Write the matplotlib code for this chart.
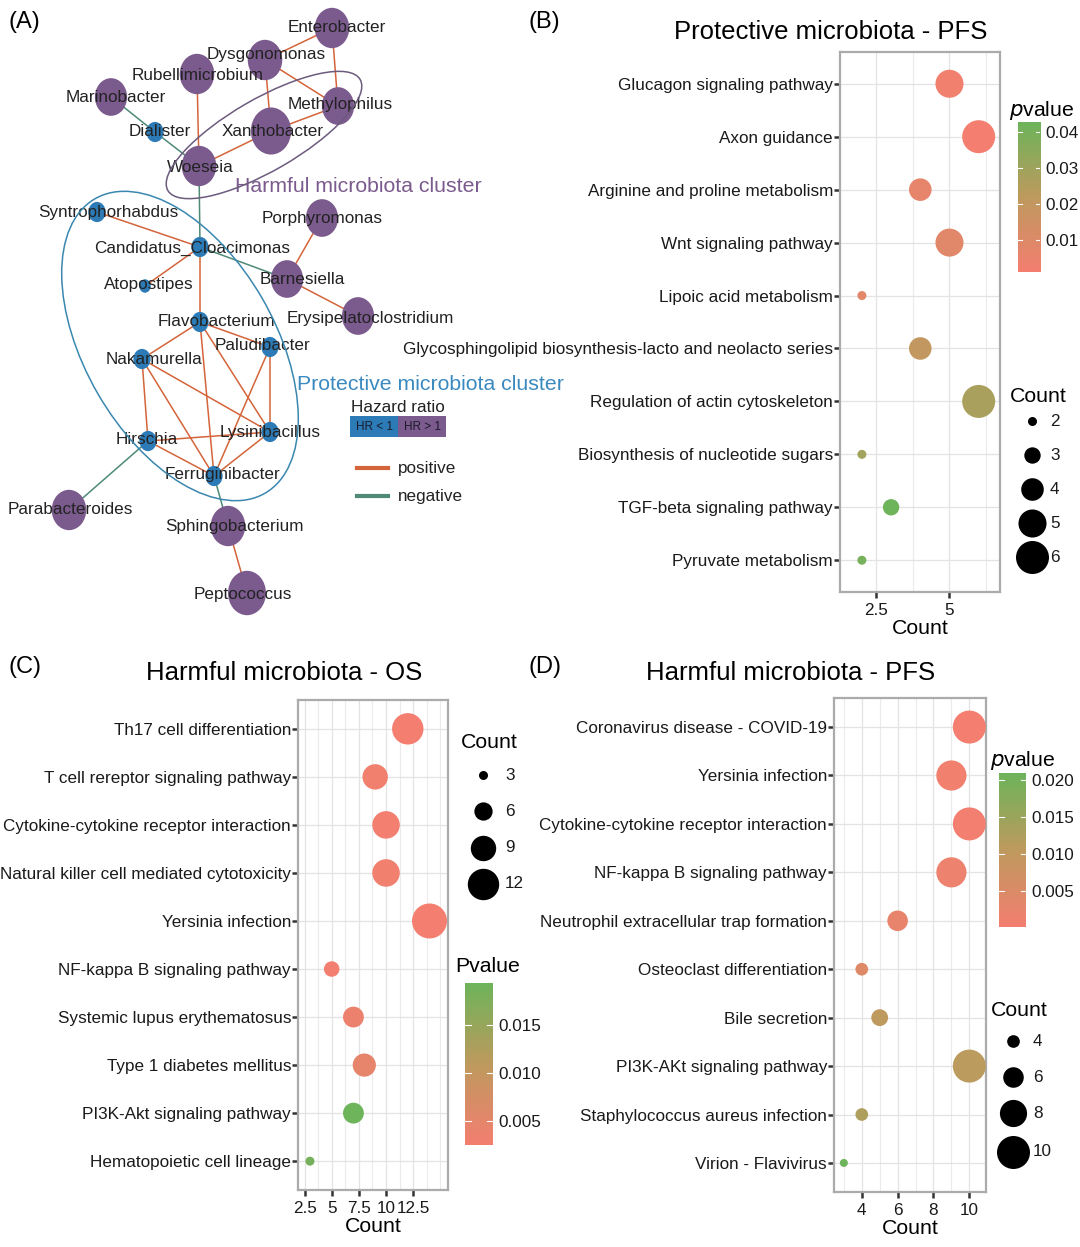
import numpy as np
import matplotlib
matplotlib.use("Agg")
import matplotlib.pyplot as plt
from matplotlib.patches import Ellipse, Rectangle
from matplotlib.colors import LinearSegmentedColormap, Normalize

plt.rcParams['font.family'] = ['Liberation Sans', 'DejaVu Sans']

W, H = 1080, 1247

# ---------------- network data (panel A) ----------------
node_names = ["Enterobacter", "Dysgonomonas", "Rubellimicrobium", "Marinobacter",
              "Methylophilus", "Xanthobacter", "Dialister", "Woeseia",
              "Syntrophorhabdus", "Porphyromonas", "Candidatus_Cloacimonas",
              "Barnesiella", "Atopostipes", "Erysipelatoclostridium",
              "Flavobacterium", "Paludibacter", "Nakamurella", "Lysinibacillus",
              "Hirschia", "Ferruginibacter", "Parabacteroides", "Sphingobacterium",
              "Peptococcus"]
node_hr = [">1", ">1", ">1", ">1", ">1", ">1", "<1", ">1",
           "<1", ">1", "<1", ">1", "<1", ">1",
           "<1", "<1", "<1", "<1", "<1", "<1", ">1", ">1", ">1"]
node_size = [3, 3, 3, 2.8, 2.8, 3.5, 1.5, 3,
             1.5, 2.8, 1.5, 2.8, 1, 2.8,
             1.5, 1.5, 1.5, 1.5, 1.5, 1.5, 3, 3, 3.3]

edges_pos = [("Enterobacter", "Dysgonomonas"), ("Enterobacter", "Methylophilus"),
             ("Dysgonomonas", "Methylophilus"), ("Dysgonomonas", "Xanthobacter"),
             ("Methylophilus", "Xanthobacter"), ("Xanthobacter", "Woeseia"),
             ("Rubellimicrobium", "Woeseia"), ("Syntrophorhabdus", "Candidatus_Cloacimonas"),
             ("Porphyromonas", "Barnesiella"), ("Barnesiella", "Erysipelatoclostridium"),
             ("Atopostipes", "Candidatus_Cloacimonas"), ("Candidatus_Cloacimonas", "Flavobacterium"),
             ("Flavobacterium", "Nakamurella"), ("Flavobacterium", "Paludibacter"),
             ("Flavobacterium", "Lysinibacillus"), ("Flavobacterium", "Ferruginibacter"),
             ("Nakamurella", "Hirschia"), ("Nakamurella", "Ferruginibacter"),
             ("Nakamurella", "Lysinibacillus"), ("Paludibacter", "Lysinibacillus"),
             ("Paludibacter", "Ferruginibacter"), ("Hirschia", "Lysinibacillus"),
             ("Hirschia", "Ferruginibacter"), ("Lysinibacillus", "Ferruginibacter"),
             ("Sphingobacterium", "Peptococcus")]
edges_neg = [("Marinobacter", "Dialister"), ("Dialister", "Woeseia"),
             ("Woeseia", "Candidatus_Cloacimonas"), ("Candidatus_Cloacimonas", "Barnesiella"),
             ("Hirschia", "Parabacteroides"), ("Ferruginibacter", "Sphingobacterium")]

# layout of the network in pixel space (x, y) and label anchor
layout = {
    "Enterobacter": (332, 28), "Dysgonomonas": (265, 60), "Rubellimicrobium": (197, 74),
    "Marinobacter": (111, 97), "Methylophilus": (338, 106), "Xanthobacter": (271, 131),
    "Dialister": (155, 132), "Woeseia": (199, 166), "Syntrophorhabdus": (97, 212),
    "Porphyromonas": (322, 218), "Candidatus_Cloacimonas": (200, 247),
    "Barnesiella": (287, 279), "Atopostipes": (145, 286),
    "Erysipelatoclostridium": (358, 316), "Flavobacterium": (200, 322),
    "Paludibacter": (270, 347), "Nakamurella": (142, 359), "Lysinibacillus": (270, 432),
    "Hirschia": (148, 441), "Ferruginibacter": (214, 476), "Parabacteroides": (69, 510),
    "Sphingobacterium": (228, 526), "Peptococcus": (247, 593),
}
label_pos = {
    "Enterobacter": (337, 27), "Dysgonomonas": (266, 55), "Rubellimicrobium": (198, 75),
    "Marinobacter": (116, 97), "Methylophilus": (340, 105), "Xanthobacter": (273, 132),
    "Dialister": (160, 132), "Woeseia": (200, 167), "Syntrophorhabdus": (108, 212),
    "Porphyromonas": (322, 218), "Candidatus_Cloacimonas": (192, 248),
    "Barnesiella": (302, 280), "Atopostipes": (149, 285),
    "Erysipelatoclostridium": (370, 318), "Flavobacterium": (216, 321),
    "Paludibacter": (263, 346), "Nakamurella": (154, 359), "Lysinibacillus": (270, 432),
    "Hirschia": (147, 440), "Ferruginibacter": (222, 475), "Parabacteroides": (70, 509),
    "Sphingobacterium": (234, 526), "Peptococcus": (243, 594),
}

# ---------------- enrichment data ----------------
b_terms = ["Glucagon signaling pathway", "Axon guidance", "Arginine and proline metabolism",
           "Wnt signaling pathway", "Lipoic acid metabolism",
           "Glycosphingolipid biosynthesis-lacto and neolacto series",
           "Regulation of actin cytoskeleton", "Biosynthesis of nucleotide sugars",
           "TGF-beta signaling pathway", "Pyruvate metabolism"]
b_count = [5, 6, 4, 5, 2, 4, 6, 2, 3, 2]
b_pval = [0.0025, 0.0011, 0.0065, 0.0085, 0.008, 0.020, 0.027, 0.029, 0.0428, 0.040]

c_terms = ["Th17 cell differentiation", "T cell rereptor signaling pathway",
           "Cytokine-cytokine receptor interaction", "Natural killer cell mediated cytotoxicity",
           "Yersinia infection", "NF-kappa B signaling pathway", "Systemic lupus erythematosus",
           "Type 1 diabetes mellitus", "PI3K-Akt signaling pathway", "Hematopoietic cell lineage"]
c_count = [12, 9, 10, 10, 14, 5, 7, 8, 7, 3]
c_pval = [0.0026, 0.003, 0.0028, 0.003, 0.0025, 0.0027, 0.0038, 0.0048, 0.0194, 0.0185]

d_terms = ["Coronavirus disease - COVID-19", "Yersinia infection",
           "Cytokine-cytokine receptor interaction", "NF-kappa B signaling pathway",
           "Neutrophil extracellular trap formation", "Osteoclast differentiation",
           "Bile secretion", "PI3K-AKt signaling pathway", "Staphylococcus aureus infection",
           "Virion - Flavivirus"]
d_count = [10, 9, 10, 9, 6, 4, 5, 10, 4, 3]
d_pval = [0.0001, 0.0008, 0.0004, 0.0015, 0.0025, 0.0045, 0.0105, 0.011, 0.0125, 0.021]

PURPLE = "#7B5A8D"
BLUE = "#2C7BB6"
POS = "#D4643A"
NEG = "#4E8A78"
cmap = LinearSegmentedColormap.from_list("pv", ["#F47E70", "#BE9A5E", "#6DB45A"])

FS = 12.3       # tick / node label size
FS_T = 15.3     # axis / legend titles

fig = plt.figure(figsize=(W / 100, H / 100), dpi=100)
ov = fig.add_axes([0, 0, 1, 1])
ov.set_xlim(0, W)
ov.set_ylim(H, 0)
ov.axis("off")


def px_axes(left, top, right, bottom):
    return fig.add_axes([left / W, 1 - bottom / H, (right - left) / W, (bottom - top) / H])


def diam(c, cmin, cmax, dmin, dmax):
    # ggplot-like area scaling: diameter linear in sqrt(count)
    t = (np.sqrt(c) - np.sqrt(cmin)) / (np.sqrt(cmax) - np.sqrt(cmin))
    return dmin + t * (dmax - dmin)


# ---------------- panel A: network ----------------
for lst, col in ((edges_pos, POS), (edges_neg, NEG)):
    for a, b in lst:
        (x1, y1), (x2, y2) = layout[a], layout[b]
        ov.plot([x1, x2], [y1, y2], color=col, lw=1.1, zorder=2)

for name, hr, sz in zip(node_names, node_hr, node_size):
    x, y = layout[name]
    w = 11.5 * sz
    ov.add_patch(Ellipse((x, y), w, w * 1.17, color=PURPLE if hr == ">1" else BLUE, zorder=3, lw=0))
    lx, ly = label_pos[name]
    ov.text(lx, ly, name, fontsize=FS, color="#222222", ha="center", va="center", zorder=4)

ov.add_patch(Ellipse((264, 135), 222, 72, angle=-30, fill=False, ec="#6C5B7E", lw=1.1, zorder=5))
ov.add_patch(Ellipse((180, 346), 340, 190, angle=60, fill=False, ec="#3A87B0", lw=1.1, zorder=5))
ov.text(358, 187, "Harmful microbiota cluster", fontsize=15.3, color="#7B5A8D", ha="center", va="center")
ov.text(430, 385, "Protective microbiota cluster", fontsize=15.3, color="#3A8AC0", ha="center", va="center")

ov.text(351, 407, "Hazard ratio", fontsize=FS, ha="left", va="center", color="#222222")
ov.add_patch(Rectangle((350, 416), 48, 21, color=BLUE, lw=0))
ov.add_patch(Rectangle((398, 416), 48, 21, color=PURPLE, lw=0))
ov.text(374, 426.5, "HR < 1", fontsize=8.5, ha="center", va="center", color="#1a1a2a")
ov.text(422, 426.5, "HR > 1", fontsize=8.5, ha="center", va="center", color="#1a1a2a")
ov.plot([357, 388], [468, 468], color=POS, lw=3)
ov.plot([357, 388], [496, 496], color=NEG, lw=3)
ov.text(398, 468, "positive", fontsize=FS, va="center", color="#222222")
ov.text(398, 496, "negative", fontsize=FS, va="center", color="#222222")

for lab, x, y in (("(A)", 8, 22), ("(B)", 528, 22), ("(C)", 8, 667), ("(D)", 528, 667)):
    ov.text(x, y, lab, fontsize=17, ha="left", va="center")


# ---------------- dot plot panels ----------------
def dot_panel(box, terms, counts, pvals, xlim, xticks, xticklabels, minor, sz):
    ax = px_axes(*box)
    n = len(terms)
    y = np.arange(n)
    norm = Normalize(min(pvals), max(pvals))
    d = diam(np.array(counts, float), *sz)
    ax.scatter(counts, y, s=(d * 0.72) ** 2, c=pvals, cmap=cmap, norm=norm, lw=0, zorder=3)
    ax.set_xlim(*xlim)
    ax.set_ylim(n - 0.4, -0.6)
    ax.set_yticks(y)
    ax.set_yticklabels(terms, fontsize=FS, color="#1a1a1a")
    ax.set_xticks(xticks)
    ax.set_xticklabels(xticklabels, fontsize=FS, color="#1a1a1a")
    ax.set_xticks(minor, minor=True)
    ax.grid(True, which="major", color="#E3E3E3", lw=0.9, zorder=0)
    ax.grid(True, which="minor", axis="x", color="#EBEBEB", lw=0.8, zorder=0)
    ax.set_axisbelow(True)
    ax.tick_params(axis="both", which="major", length=4, width=1.8, color="#333333", pad=1)
    ax.tick_params(axis="x", which="major", pad=4)
    ax.tick_params(axis="x", which="minor", length=0)
    for sp in ax.spines.values():
        sp.set_color("#ABABAB")
        sp.set_linewidth(1.6)
    ax.set_xlabel("Count", fontsize=FS_T, labelpad=1)
    return norm


def colorbar(box, norm, ticks, labels, title, italic):
    cax = px_axes(*box)
    grad = np.linspace(norm.vmin, norm.vmax, 256).reshape(-1, 1)
    cax.imshow(grad, cmap=cmap, norm=norm, aspect="auto", origin="lower",
               extent=[0, 1, norm.vmin, norm.vmax])
    for t in ticks:
        cax.plot([0, 0.2], [t, t], color="white", lw=0.8)
        cax.plot([0.8, 1], [t, t], color="white", lw=0.8)
    cax.set_xlim(0, 1)
    cax.set_ylim(norm.vmin, norm.vmax)
    cax.set_xticks([])
    cax.yaxis.tick_right()
    cax.set_yticks(ticks)
    cax.set_yticklabels(labels, fontsize=FS, color="#1a1a1a")
    cax.tick_params(axis="y", length=0, pad=4)
    for sp in cax.spines.values():
        sp.set_visible(False)
    l, t, r, b = box
    if italic:
        ov.text(l - 9, t - 12, r"$\it{p}$" + "value", fontsize=FS_T, ha="left", va="center")
    else:
        ov.text(l - 10, t - 16, title, fontsize=FS_T, ha="left", va="center")


def size_legend(x_dot, x_lab, y_title, ys, vals, sz):
    ov.text(x_dot - 22, y_title, "Count", fontsize=FS_T, ha="left", va="center")
    for yy, v in zip(ys, vals):
        dd = diam(v, *sz)
        ov.scatter([x_dot], [yy], s=(dd * 0.72) ** 2, color="black", lw=0)
        ov.text(x_lab, yy, str(v), fontsize=FS, ha="left", va="center", color="#1a1a1a")


# panel B
b_sz = (2, 6, 9, 33)
nb = dot_panel((840, 52, 1000, 592), b_terms, b_count, b_pval, (1.25, 6.73),
               [2.5, 5], ["2.5", "5"], [3.75, 6.25], b_sz)
colorbar((1018, 122, 1040, 272), nb, [0.01, 0.02, 0.03, 0.04],
         ["0.01", "0.02", "0.03", "0.04"], "pvalue", True)
size_legend(1032, 1050, 397, [421, 455, 489, 523, 557], [2, 3, 4, 5, 6], b_sz)
ov.text(831, 32, "Protective microbiota - PFS", fontsize=18.5, ha="center", va="center")

# panel C
c_sz = (3, 14, 9, 35)
nc = dot_panel((298, 700, 448, 1190), c_terms, c_count, c_pval, (1.9, 15.7),
               [2.5, 5, 7.5, 10, 12.5], ["2.5", "5", "7.5", "10", "12.5"],
               [3.75, 6.25, 8.75, 11.25, 13.75, 15], c_sz)
colorbar((465, 983, 493, 1145), nc, [0.005, 0.010, 0.015],
         ["0.005", "0.010", "0.015"], "Pvalue", False)
size_legend(483, 505, 743, [775, 811, 848, 884], [3, 6, 9, 12], c_sz)
ov.text(284, 673, "Harmful microbiota - OS", fontsize=18.5, ha="center", va="center")

# panel D
d_sz = (3, 10, 8, 33)
nd = dot_panel((834, 698, 986, 1192), d_terms, d_count, d_pval, (2.45, 10.93),
               [4, 6, 8, 10], ["4", "6", "8", "10"], [3, 5, 7, 9], d_sz)
colorbar((999, 773, 1026, 927), nd, [0.005, 0.010, 0.015, 0.020],
         ["0.005", "0.010", "0.015", "0.020"], "pvalue", True)
size_legend(1013, 1033, 1011, [1041, 1077, 1113, 1152], [4, 6, 8, 10], d_sz)
ov.text(791, 673, "Harmful microbiota - PFS", fontsize=18.5, ha="center", va="center")

fig.savefig("out.png", dpi=100)
